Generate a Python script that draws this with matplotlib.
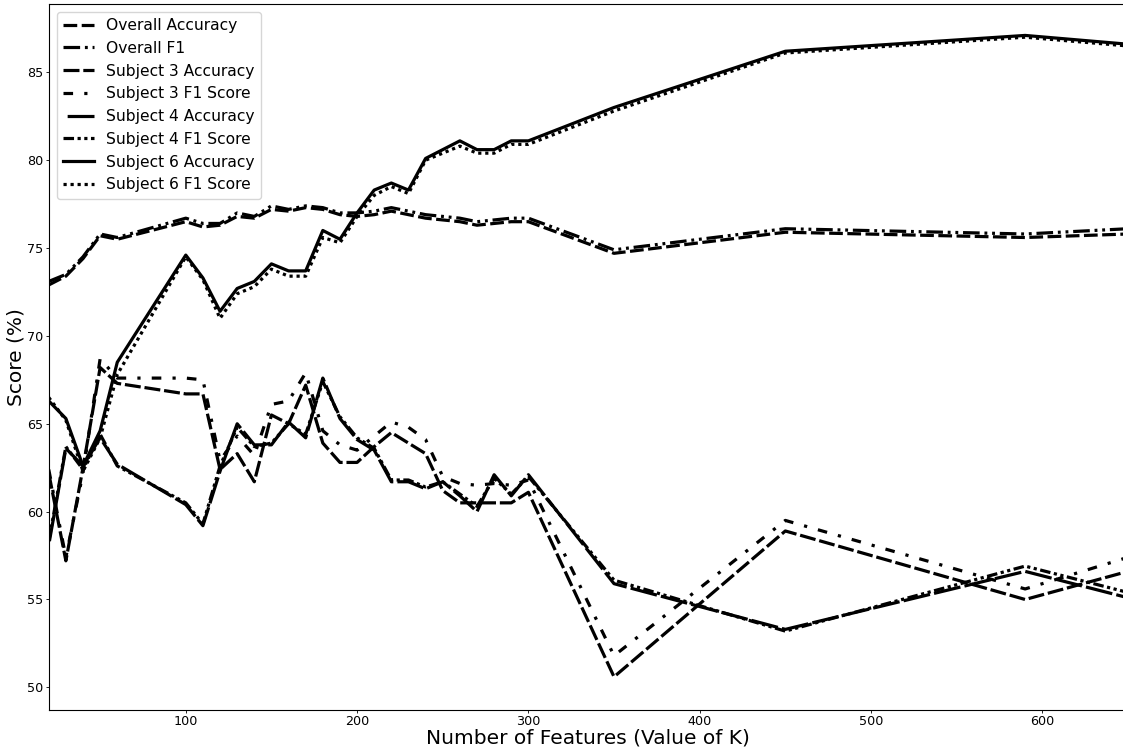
import matplotlib
matplotlib.use("Agg")
import matplotlib.pyplot as plt

# feature counts (K) evaluated
k_values = [20, 30, 40, 50, 60, 100, 110, 120, 130, 140, 150, 160, 170, 180, 190,
            200, 210, 220, 230, 240, 250, 260, 270, 280, 290, 300, 350, 450, 590, 650]

overall_acc = [72.9, 73.4, 74.4, 75.7, 75.5, 76.5, 76.2, 76.3, 76.8, 76.7, 77.2, 77.1, 77.3, 77.2, 76.9,
               76.8, 76.9, 77.1, 76.9, 76.7, 76.6, 76.5, 76.3, 76.4, 76.5, 76.5, 74.7, 75.9, 75.6, 75.8]
overall_f1 = [73.1, 73.5, 74.5, 75.8, 75.6, 76.7, 76.4, 76.4, 77.0, 76.8, 77.4, 77.2, 77.4, 77.3, 77.0,
              77.0, 77.1, 77.3, 77.1, 76.9, 76.8, 76.7, 76.5, 76.6, 76.7, 76.7, 74.9, 76.1, 75.8, 76.1]

s3_acc = [62.2, 57.2, 62.5, 68.2, 67.3, 66.7, 66.7, 62.4, 63.3, 61.7, 65.5, 65.0, 67.2, 63.9, 62.8,
          62.8, 63.7, 64.5, 63.9, 63.3, 61.2, 60.5, 60.5, 60.5, 60.5, 61.1, 50.6, 58.9, 55.0, 56.6]
s3_f1 = [62.4, 57.4, 62.2, 68.7, 67.6, 67.6, 67.5, 62.9, 64.3, 63.2, 66.1, 66.3, 67.9, 64.6, 63.8,
         63.5, 64.3, 65.1, 64.8, 64.1, 62.0, 61.6, 61.5, 61.6, 61.5, 61.8, 51.8, 59.5, 55.6, 57.4]

s4_acc = [58.1, 63.6, 62.6, 64.2, 62.7, 60.4, 59.2, 62.3, 65.0, 63.8, 63.8, 65.1, 64.2, 67.6, 65.3,
          64.1, 63.5, 61.7, 61.7, 61.3, 61.7, 60.9, 60.0, 62.1, 60.9, 62.1, 55.9, 53.3, 56.6, 55.1]
s4_f1 = [58.3, 63.7, 62.4, 64.4, 62.6, 60.5, 59.3, 62.6, 64.8, 63.7, 63.9, 65.0, 64.4, 67.4, 65.4,
         64.2, 63.6, 61.8, 61.8, 61.4, 61.7, 61.0, 60.3, 61.9, 61.0, 62.0, 56.1, 53.2, 56.9, 55.4]

s6_acc = [66.3, 65.3, 62.6, 64.6, 68.5, 74.6, 73.3, 71.4, 72.7, 73.1, 74.1, 73.7, 73.7, 76.0, 75.5,
          77.0, 78.3, 78.7, 78.3, 80.1, 80.6, 81.1, 80.6, 80.6, 81.1, 81.1, 83.0, 86.2, 87.1, 86.6]
s6_f1 = [66.5, 65.2, 62.3, 64.2, 67.8, 74.5, 73.2, 71.0, 72.4, 72.8, 73.8, 73.4, 73.4, 75.6, 75.3,
         76.8, 78.0, 78.5, 78.1, 80.0, 80.4, 80.8, 80.4, 80.4, 80.9, 80.9, 82.8, 86.1, 87.0, 86.5]

series = [
    ("Overall Accuracy", overall_acc, (0, (4.3, 1.4))),
    ("Overall F1", overall_f1, (0, (5.2, 1.5, 0.9, 1.5, 0.9, 1.5))),
    ("Subject 3 Accuracy", s3_acc, (0, (5.0, 1.2))),
    ("Subject 3 F1 Score", s3_f1, (0, (3, 3.5, 1, 3.5))),
    ("Subject 4 Accuracy", s4_acc, (8.5, (8.5, 1.3))),
    ("Subject 4 F1 Score", s4_f1, (0, (3.3, 1.1, 1, 1.1, 1, 1.1))),
    ("Subject 6 Accuracy", s6_acc, "-"),
    ("Subject 6 F1 Score", s6_f1, (0, (1, 1.2))),
]

fig = plt.figure(figsize=(11.23, 7.49), dpi=100)
ax = fig.add_axes([0.0434, 0.0525, 0.961, 0.9422])

for label, vals, ls in series:
    ax.plot(k_values, vals, color="black", linestyle=ls, linewidth=2.3, label=label)

ax.set_xlim(20, 650)
ax.set_ylim(48.73, 88.89)
ax.set_xticks([100, 200, 300, 400, 500, 600])
ax.set_yticks([50, 55, 60, 65, 70, 75, 80, 85])
ax.tick_params(labelsize=9.2, length=2.2, width=0.6, pad=1.5)
ax.set_xlabel("Number of Features (Value of K)", fontsize=14.5, labelpad=0.5)
ax.set_ylabel("Score (%)", fontsize=14.5, labelpad=1)
ax.legend(loc="upper left", fontsize=11.2)

fig.savefig("out.png", dpi=100)
